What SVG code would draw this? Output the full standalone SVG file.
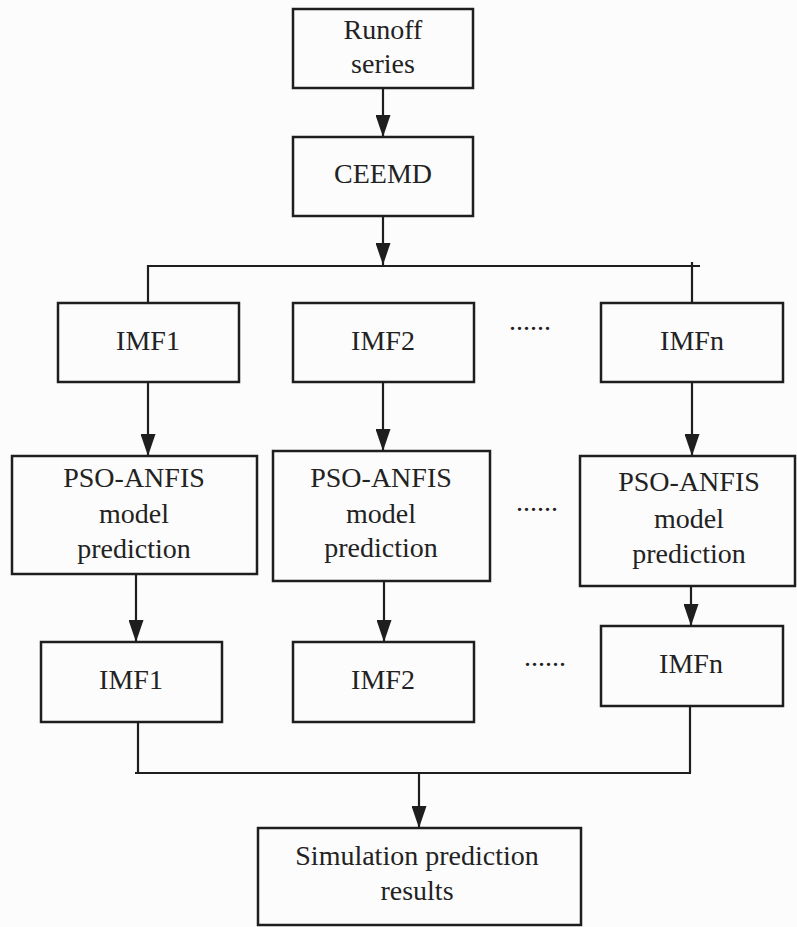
<svg xmlns="http://www.w3.org/2000/svg" width="797" height="927" viewBox="0 0 797 927">
<style>
.box{fill:none;stroke:#1e1e1e;stroke-width:2.5}
.ln{fill:none;stroke:#1e1e1e;stroke-width:2.2}
text{font-family:"Liberation Serif","Times New Roman",serif;font-size:28px;fill:#222;text-anchor:middle}
.dots{text-anchor:start}
</style>
<defs>
<marker id="ah" viewBox="0 0 22 15" refX="22" refY="7.5" markerWidth="22" markerHeight="15" markerUnits="userSpaceOnUse" orient="auto">
<path d="M0,0 L22,7.5 L0,15 z" fill="#1e1e1e"/>
</marker>
</defs>
<rect width="797" height="927" fill="#fcfcfc"/>
<g id="connectors">
<line class="ln" x1="383" y1="88" x2="383" y2="137" marker-end="url(#ah)"/>
<line class="ln" x1="383" y1="216" x2="383" y2="265" marker-end="url(#ah)"/>
<line class="ln" x1="148" y1="266" x2="700" y2="266"/>
<line class="ln" x1="148" y1="265" x2="148" y2="303"/>
<line class="ln" x1="692" y1="262" x2="692" y2="303"/>
<line class="ln" x1="148" y1="382" x2="148" y2="456" marker-end="url(#ah)"/>
<line class="ln" x1="383" y1="382" x2="383" y2="451" marker-end="url(#ah)"/>
<line class="ln" x1="692" y1="382" x2="692" y2="456" marker-end="url(#ah)"/>
<line class="ln" x1="136" y1="574" x2="136" y2="642" marker-end="url(#ah)"/>
<line class="ln" x1="384" y1="582" x2="384" y2="642" marker-end="url(#ah)"/>
<line class="ln" x1="691" y1="586" x2="691" y2="626" marker-end="url(#ah)"/>
<line class="ln" x1="138" y1="722" x2="138" y2="773"/>
<line class="ln" x1="690" y1="706" x2="690" y2="773"/>
<line class="ln" x1="135" y1="773" x2="691" y2="773"/>
<line class="ln" x1="419" y1="773" x2="419" y2="828" marker-end="url(#ah)"/>
</g>
<g id="runoff">
<rect class="box" x="293" y="9" width="180" height="79"/>
<text x="383" y="39">Runoff</text>
<text x="383" y="73">series</text>
</g>
<g id="ceemd">
<rect class="box" x="293" y="137" width="180" height="79"/>
<text x="383" y="183">CEEMD</text>
</g>
<g id="imf1">
<rect class="box" x="58" y="303" width="181" height="79"/>
<text x="148" y="350">IMF1</text>
</g>
<g id="imf2">
<rect class="box" x="293" y="303" width="181" height="79"/>
<text x="383" y="350">IMF2</text>
</g>
<g id="imfn">
<rect class="box" x="601" y="303" width="182" height="79"/>
<text x="692" y="350">IMFn</text>
</g>
<text class="dots" x="509" y="330">......</text>
<g id="pso1">
<rect class="box" x="12" y="456" width="245" height="118"/>
<text x="134" y="487">PSO-ANFIS</text>
<text x="134" y="523">model</text>
<text x="134" y="558">prediction</text>
</g>
<g id="pso2">
<rect class="box" x="273" y="451" width="217" height="130"/>
<text x="381" y="487">PSO-ANFIS</text>
<text x="381" y="523">model</text>
<text x="381" y="557">prediction</text>
</g>
<g id="pso3">
<rect class="box" x="580" y="456" width="215" height="130"/>
<text x="689" y="491">PSO-ANFIS</text>
<text x="689" y="528">model</text>
<text x="689" y="563">prediction</text>
</g>
<text class="dots" x="516" y="511">......</text>
<g id="imf1b">
<rect class="box" x="41" y="642" width="181" height="80"/>
<text x="131" y="689">IMF1</text>
</g>
<g id="imf2b">
<rect class="box" x="293" y="642" width="181" height="80"/>
<text x="383" y="689">IMF2</text>
</g>
<g id="imfnb">
<rect class="box" x="601" y="626" width="182" height="80"/>
<text x="691" y="673">IMFn</text>
</g>
<text class="dots" x="524" y="666">......</text>
<g id="result">
<rect class="box" x="258" y="828" width="323" height="97"/>
<text x="417" y="865">Simulation prediction</text>
<text x="417" y="900">results</text>
</g>
</svg>
